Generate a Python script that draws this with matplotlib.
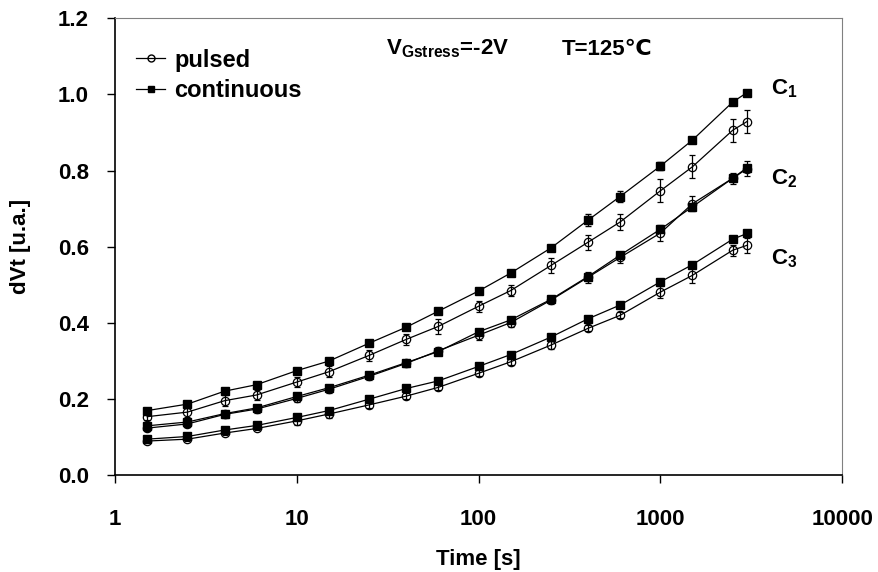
import matplotlib.pyplot as plt
from matplotlib.lines import Line2D

plt.rcParams['font.family'] = ['Liberation Sans', 'DejaVu Sans']
plt.rcParams['font.weight'] = 'bold'
plt.rcParams['mathtext.fontset'] = 'custom'
plt.rcParams['mathtext.rm'] = 'Liberation Sans:bold'
plt.rcParams['mathtext.bf'] = 'Liberation Sans:bold'

t = [1.5, 2.5, 4, 6, 10, 15, 25, 40, 60, 100, 150, 250, 400, 600, 1000, 1500, 2500, 3000]

c1_cont = [0.170, 0.187, 0.221, 0.238, 0.275, 0.300, 0.347, 0.389, 0.431, 0.484, 0.531, 0.597, 0.670, 0.732, 0.812, 0.880, 0.980, 1.005]
c1_puls = [0.154, 0.166, 0.196, 0.211, 0.245, 0.272, 0.315, 0.357, 0.391, 0.444, 0.485, 0.551, 0.612, 0.665, 0.747, 0.810, 0.906, 0.929]
c2_cont = [0.130, 0.140, 0.162, 0.177, 0.207, 0.230, 0.263, 0.296, 0.325, 0.377, 0.408, 0.462, 0.522, 0.578, 0.646, 0.705, 0.780, 0.808]
c2_puls = [0.124, 0.135, 0.160, 0.174, 0.202, 0.226, 0.260, 0.294, 0.327, 0.368, 0.401, 0.460, 0.520, 0.572, 0.636, 0.713, 0.780, 0.805]
c3_cont = [0.095, 0.102, 0.119, 0.131, 0.152, 0.170, 0.200, 0.228, 0.248, 0.286, 0.317, 0.363, 0.411, 0.447, 0.508, 0.553, 0.620, 0.635]
c3_puls = [0.090, 0.095, 0.111, 0.123, 0.143, 0.161, 0.185, 0.208, 0.231, 0.268, 0.298, 0.342, 0.386, 0.420, 0.481, 0.525, 0.591, 0.604]

c1_puls_err = [0.010, 0.012, 0.015, 0.012, 0.012, 0.015, 0.015, 0.015, 0.020, 0.015, 0.015, 0.020, 0.020, 0.020, 0.030, 0.030, 0.030, 0.030]
c1_cont_err = [0.003, 0.003, 0.003, 0.003, 0.003, 0.003, 0.003, 0.003, 0.003, 0.003, 0.003, 0.003, 0.015, 0.015, 0.010, 0.003, 0.003, 0.003]
c2_puls_err = [0.008, 0.008, 0.010, 0.010, 0.010, 0.010, 0.010, 0.010, 0.010, 0.012, 0.012, 0.010, 0.015, 0.015, 0.020, 0.020, 0.015, 0.020]
c3_puls_err = [0.005, 0.005, 0.005, 0.005, 0.010, 0.010, 0.008, 0.008, 0.008, 0.008, 0.008, 0.010, 0.008, 0.008, 0.015, 0.020, 0.015, 0.020]

fig = plt.figure(figsize=(8.79, 5.72), dpi=100)
ax = fig.add_axes([0.131, 0.169, 0.827, 0.799])

def pulsed(y, err):
    ax.errorbar(t, y, yerr=err, color='black', lw=0.9, marker='o', ms=6,
                mfc='none', mec='black', mew=0.9, elinewidth=0.9, capsize=2,
                zorder=3)

def cont(y, err=None):
    ax.errorbar(t, y, yerr=err, color='black', lw=0.9, marker='s', ms=6,
                mfc='black', mec='black', elinewidth=0.9, capsize=2,
                zorder=4)

pulsed(c1_puls, c1_puls_err)
cont(c1_cont, c1_cont_err)
pulsed(c2_puls, c2_puls_err)
cont(c2_cont)
pulsed(c3_puls, c3_puls_err)
cont(c3_cont)

ax.set_xscale('log')
ax.set_xlim(1, 10000)
ax.set_ylim(0, 1.2)
ax.set_xticks([1, 10, 100, 1000, 10000])
ax.set_xticklabels(['1', '10', '100', '1000', '10000'])
ax.xaxis.set_minor_locator(plt.NullLocator())
ax.set_yticks([0, 0.2, 0.4, 0.6, 0.8, 1.0, 1.2])
ax.set_yticklabels(['0.0', '0.2', '0.4', '0.6', '0.8', '1.0', '1.2'])
ax.tick_params(axis='both', labelsize=16, length=6, width=1, direction='out')
ax.tick_params(axis='x', pad=18)
ax.tick_params(axis='y', pad=13)
for lab in ax.get_xticklabels() + ax.get_yticklabels():
    lab.set_fontweight('bold')
ax.spines['left'].set_linewidth(1.2)
ax.spines['bottom'].set_linewidth(1.2)
ax.spines['top'].set_color('#808080')
ax.spines['right'].set_color('#808080')

ax.set_xlabel('Time [s]', fontsize=16, fontweight='bold', labelpad=14)
ax.set_ylabel('dVt [u.a.]', fontsize=16, fontweight='bold', labelpad=19)

handles = [
    Line2D([], [], color='black', lw=0.9, marker='o', ms=5, mfc='none', mec='black'),
    Line2D([], [], color='black', lw=0.9, marker='s', ms=5, mfc='black', mec='black'),
]
leg = ax.legend(handles, ['pulsed', 'continuous'], loc='upper left',
                bbox_to_anchor=(0.0, 0.98), frameon=False, fontsize=17,
                handlelength=1.2, handletextpad=0.4, labelspacing=0.3)
for txt in leg.get_texts():
    txt.set_fontweight('bold')

ax.text(0.372, 0.92, r'$\mathbf{V_{Gstress}}$=-2V', transform=ax.transAxes,
        fontsize=16, fontweight='bold')
ax.text(0.615, 0.92, 'T=125℃', transform=ax.transAxes, fontsize=16, fontweight='bold')

ax.text(0.902, 0.845, r'$\mathbf{C_1}$', transform=ax.transAxes, fontsize=16, va='center')
ax.text(0.902, 0.648, r'$\mathbf{C_2}$', transform=ax.transAxes, fontsize=16, va='center')
ax.text(0.902, 0.473, r'$\mathbf{C_3}$', transform=ax.transAxes, fontsize=16, va='center')

fig.savefig('out.png', dpi=100)
